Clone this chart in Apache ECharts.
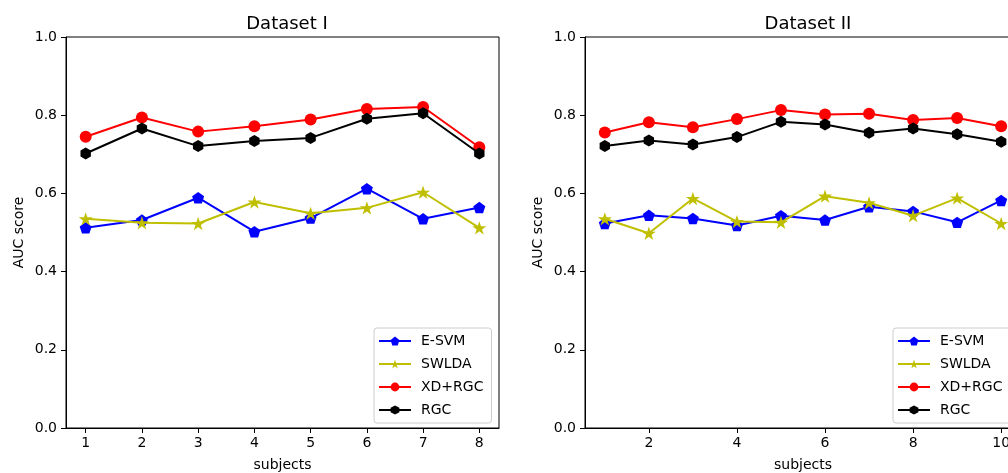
<!DOCTYPE html>
<html>
<head>
<meta charset="utf-8">
<script src="https://cdn.jsdelivr.net/npm/echarts@6/dist/echarts.min.js"></script>
<style>
  html, body { margin: 0; padding: 0; background: #fff; overflow: hidden; }
  #chart { width: 1030px; height: 473px; }
</style>
</head>
<body>
<div id="chart"></div>
<script>
// subjects (x values) and tick labels
var subjects1 = [1, 2, 3, 4, 5, 6, 7, 8];
var subjects2 = [1, 2, 3, 4, 5, 6, 7, 8, 9, 10];
var xTicks1 = [1, 2, 3, 4, 5, 6, 7, 8];
var xTicks2 = [2, 4, 6, 8, 10];
var yTicks = [0, 0.2, 0.4, 0.6, 0.8, 1.0];

// Dataset I
var esvm1 = [0.512, 0.532, 0.589, 0.502, 0.537, 0.612, 0.535, 0.564];
var swlda1 = [0.535, 0.525, 0.523, 0.578, 0.549, 0.563, 0.603, 0.512];
var xdrgc1 = [0.745, 0.794, 0.758, 0.772, 0.789, 0.816, 0.821, 0.718];
var rgc1 = [0.702, 0.766, 0.721, 0.734, 0.742, 0.791, 0.805, 0.702];

// Dataset II
var esvm2 = [0.523, 0.544, 0.536, 0.518, 0.543, 0.532, 0.566, 0.554, 0.526, 0.582];
var swlda2 = [0.535, 0.498, 0.587, 0.528, 0.526, 0.593, 0.576, 0.543, 0.588, 0.523];
var xdrgc2 = [0.756, 0.782, 0.769, 0.790, 0.813, 0.802, 0.804, 0.788, 0.793, 0.772];
var rgc2 = [0.721, 0.735, 0.725, 0.744, 0.783, 0.776, 0.755, 0.766, 0.751, 0.732];

var names = ['E-SVM', 'SWLDA', 'XD+RGC', 'RGC'];
var colors = ['#0000ff', '#bfbf00', '#ff0000', '#000000'];

// marker shapes like matplotlib 'p', '*', 'o', 'h'
var pentagon = 'path://M0,-1L0.951,-0.309L0.588,0.809L-0.588,0.809L-0.951,-0.309Z';
var star = 'path://M0,-1L0.225,-0.309L0.951,-0.309L0.363,0.118L0.588,0.809L0,0.382L-0.588,0.809L-0.363,0.118L-0.951,-0.309L-0.225,-0.309Z';
var hexagon = 'path://M0,-1L0.866,-0.5L0.866,0.5L0,1L-0.866,0.5L-0.866,-0.5Z';
var symbols = [pentagon, star, 'circle', hexagon];
var sizes = [12, 14, 12, 12];

function pairs(xs, ys) {
  return xs.map(function (x, i) { return [x, ys[i]]; });
}

function makeSeries(idx, xs, lists) {
  return lists.map(function (ys, k) {
    return {
      name: names[k],
      type: 'line',
      xAxisIndex: idx,
      yAxisIndex: idx,
      data: pairs(xs, ys),
      symbol: symbols[k],
      symbolSize: sizes[k],
      symbolKeepAspect: true,
      showAllSymbol: true,
      lineStyle: { color: colors[k], width: 2 },
      itemStyle: { color: colors[k] },
      z: 2 + k
    };
  });
}

var font = 'DejaVu Sans';
var tickText = { color: '#000', fontSize: 14, fontFamily: font };

function xAxisOpt(idx, min, max, ticks) {
  return {
    type: 'value',
    gridIndex: idx,
    min: min,
    max: max,
    name: 'subjects',
    nameLocation: 'middle',
    nameGap: 30,
    nameTextStyle: tickText,
    axisLine: { show: true, lineStyle: { color: '#000', width: 1 } },
    axisTick: { show: true, length: 5, lineStyle: { color: '#000' }, customValues: ticks },
    axisLabel: Object.assign({ margin: 8, customValues: ticks }, tickText),
    splitLine: { show: false }
  };
}

function yAxisOpt(idx) {
  return {
    type: 'value',
    gridIndex: idx,
    min: 0,
    max: 1,
    interval: 0.2,
    name: 'AUC score',
    nameLocation: 'middle',
    nameGap: 40,
    nameTextStyle: tickText,
    axisLine: { show: true, lineStyle: { color: '#000', width: 1 } },
    axisTick: { show: true, length: 5, lineStyle: { color: '#000' }, customValues: yTicks },
    axisLabel: Object.assign({
      margin: 9,
      customValues: yTicks,
      formatter: function (v) { return v.toFixed(1); }
    }, tickText),
    splitLine: { show: false }
  };
}

function legendOpt(left) {
  return {
    data: names,
    orient: 'vertical',
    left: left,
    top: 328,
    itemWidth: 32,
    itemHeight: 11,
    itemGap: 9,
    padding: [6, 8, 6, 4],
    borderColor: '#cccccc',
    borderWidth: 1,
    borderRadius: 3,
    backgroundColor: 'rgba(255,255,255,0.8)',
    textStyle: { color: '#000', fontSize: 14, fontFamily: font, padding: [0, 0, 0, 5] },
    selectedMode: false
  };
}

var chart = echarts.init(document.getElementById('chart'));
chart.setOption({
  animation: false,
  backgroundColor: '#fff',
  title: [
    { text: 'Dataset I', left: 282, top: 10, textAlign: 'center',
      textStyle: { color: '#000', fontSize: 18, fontWeight: 'normal', fontFamily: font } },
    { text: 'Dataset II', left: 803, top: 10, textAlign: 'center',
      textStyle: { color: '#000', fontSize: 18, fontWeight: 'normal', fontFamily: font } }
  ],
  grid: [
    { left: 66, top: 37, width: 433, height: 391, show: true, borderColor: '#000', borderWidth: 1,
      outerBoundsMode: 'none' },
    { left: 585, top: 37, width: 436, height: 391, show: true, borderColor: '#000', borderWidth: 1,
      outerBoundsMode: 'none' }
  ],
  legend: [legendOpt(374), legendOpt(893)],
  xAxis: [xAxisOpt(0, 0.65, 8.35, xTicks1), xAxisOpt(1, 0.55, 10.45, xTicks2)],
  yAxis: [yAxisOpt(0), yAxisOpt(1)],
  series: makeSeries(0, subjects1, [esvm1, swlda1, xdrgc1, rgc1])
    .concat(makeSeries(1, subjects2, [esvm2, swlda2, xdrgc2, rgc2]))
});
</script>
</body>
</html>
